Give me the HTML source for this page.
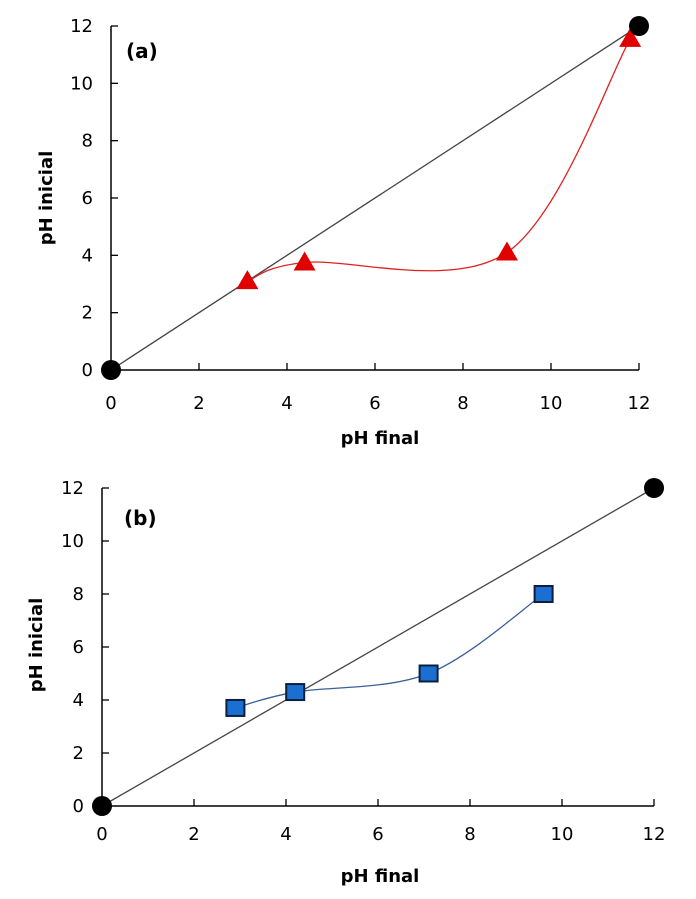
<!DOCTYPE html>
<html><head><meta charset="utf-8"><style>
html,body{margin:0;padding:0;background:#fff;}
svg text{font-family:"DejaVu Sans","Liberation Sans",sans-serif;fill:#000;}
</style></head><body>
<svg id="svg" width="696" height="894" xmlns="http://www.w3.org/2000/svg"></svg>
<script>
const xTicks=[0,2,4,6,8,10,12];
const yTicks=[0,2,4,6,8,10,12];
const refX=[0,12];
const refY=[0,12];
const aX=[3.1,4.4,9.0,11.8];
const aY=[3.1,3.75,4.1,11.55];
const bX=[2.9,4.2,7.1,9.6];
const bY=[3.7,4.3,5.0,8.0];
const NS="http://www.w3.org/2000/svg";
const svg=document.getElementById('svg');
function mk(tag,attrs,parent){const e=document.createElementNS(NS,tag);for(const k in attrs)e.setAttribute(k,attrs[k]);(parent||svg).appendChild(e);return e;}
function spline(pts){let d=`M${pts[0][0]},${pts[0][1]}`;for(let i=0;i<pts.length-1;i++){const p0=pts[i-1]||pts[i],p1=pts[i],p2=pts[i+1],p3=pts[i+2]||p2;const t=1/6;d+=` C${p1[0]+(p2[0]-p0[0])*t},${p1[1]+(p2[1]-p0[1])*t} ${p2[0]-(p3[0]-p1[0])*t},${p2[1]-(p3[1]-p1[1])*t} ${p2[0]},${p2[1]}`;}return d;}
function chart(cfg){
  const g=mk('g',{});
  
  
  const sx=v=>cfg.x0+(cfg.x1-cfg.x0)*v/12, sy=v=>cfg.y0-(cfg.y0-cfg.y1)*v/12;
  const ax=mk('path',{d:`M${sx(0)},${sy(12)}V${sy(0)}H${sx(12)}`,stroke:'#000','stroke-width':1.5,fill:'none'},g);
  
  xTicks.forEach(t=>{const l=mk('line',{x1:sx(t),x2:sx(t),y1:sy(0),y2:sy(0)-7,stroke:'#000','stroke-width':1.3},g);
    const tx=mk('text',{x:sx(t),y:sy(0)+cfg.xlOff,'text-anchor':'middle','font-size':18},g);tx.textContent=t;});
  yTicks.forEach(t=>{const l=mk('line',{x1:sx(0),x2:sx(0)+7,y1:sy(t),y2:sy(t),stroke:'#000','stroke-width':1.3},g);
    const tx=mk('text',{x:sx(0)-cfg.ylOff,y:sy(t)+6,'text-anchor':'end','font-size':18},g);tx.textContent=t;});
  const ref=mk('line',{x1:sx(refX[0]),y1:sy(refY[0]),x2:sx(refX[1]),y2:sy(refY[1]),stroke:'#444','stroke-width':1.3},g);
  
  const pts=cfg.xs.map((v,i)=>[sx(v),sy(cfg.ys[i])]);
  const c=mk('path',{d:spline(pts),stroke:cfg.lc,'stroke-width':1.3,fill:'none'},g);
  
  pts.forEach(p=>{let m;
    if(cfg.marker==='tri'){m=mk('polygon',{points:`${p[0]},${p[1]-11} ${p[0]-11},${p[1]+8} ${p[0]+11},${p[1]+8}`,fill:'#e00000'},g);}
    else{m=mk('rect',{x:p[0]-9,y:p[1]-8,width:18,height:16,fill:'#1a6fd0',stroke:'#0a1f40','stroke-width':2},g);}
    });
  refX.forEach((v,i)=>{const ci=mk('circle',{cx:sx(v),cy:sy(refY[i]),r:10,fill:'#000'},g);});
  const xt=mk('text',{x:cfg.xtX,y:cfg.xtY,'text-anchor':'middle','font-size':18,'font-weight':'bold'},g);xt.textContent='pH final';
  const yt=mk('text',{x:0,y:0,'text-anchor':'middle','font-size':18,'font-weight':'bold',transform:`translate(${cfg.ytX},${cfg.ytY}) rotate(-90)`},g);yt.textContent='pH inicial';
  const pl=mk('text',{x:cfg.plX,y:cfg.plY,'font-size':20,'font-weight':'bold'},g);pl.textContent=cfg.label;
}
chart({name:'chart-a',x0:111,x1:639,y0:370,y1:26,xs:aX,ys:aY,lc:'#e02020',marker:'tri',xlOff:39,ylOff:18,xtX:380,xtY:444,ytX:52,ytY:198,plX:126,plY:58,label:'(a)'});
chart({name:'chart-b',x0:102,x1:654,y0:806,y1:488,xs:bX,ys:bY,lc:'#3a5f9a',marker:'sq',xlOff:34,ylOff:18,xtX:380,xtY:882,ytX:42,ytY:645,plX:124,plY:525,label:'(b)'});
</script>
</body></html>
